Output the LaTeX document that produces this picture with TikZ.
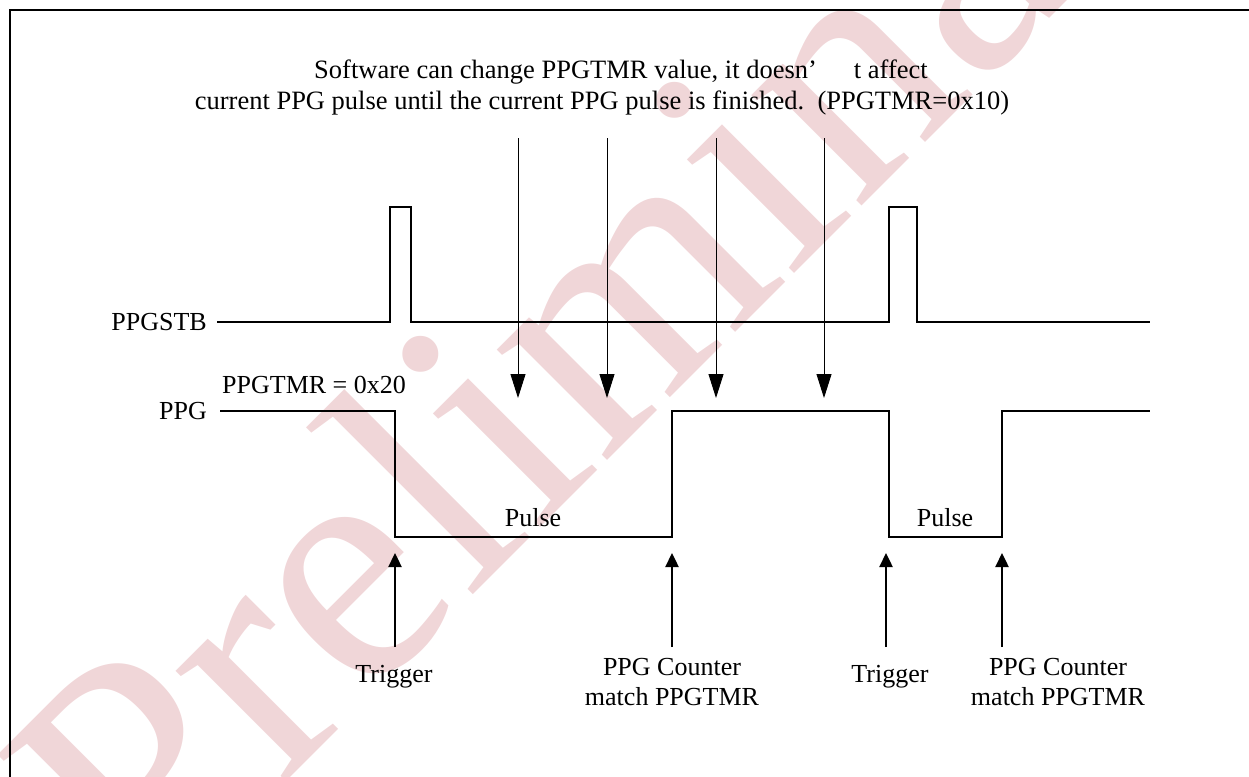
\documentclass[tikz,border=0pt]{standalone}
\usepackage{fontspec}
\setmainfont{Liberation Serif}
\usetikzlibrary{arrows.meta}
\definecolor{wmcol}{RGB}{240,214,216}
\begin{document}
\begin{tikzpicture}[x=1pt,y=-1pt,
  wave/.style={line width=1.6pt, line join=miter},
  darr/.style={line width=0.9pt, -{Triangle[width=15pt,length=24pt]}},
  uarr/.style={line width=2.4pt, -{Triangle[width=13pt,length=14pt]}},
  lbl/.style={font=\fontsize{26}{30}\selectfont, inner sep=0pt},
  toplbl/.style={font=\fontsize{26.5}{30}\selectfont, inner sep=0pt},
  frame/.style={line width=2pt},
  wm/.style={text=wmcol, inner sep=0pt, font=\fontsize{340}{340}\selectfont}]
\useasboundingbox (0,0) rectangle (1249,776);
% watermark
\node[wm, rotate=45, anchor=base west] (wmark) at (148,920) {Preliminary};
% frame
\draw[frame] (10.3,780) -- (10.3,10.3) -- (1260,10.3);
% top text
\node[toplbl, anchor=base] (t1) at (621,78) {Software can change PPGTMR value, it doesn’\hspace{1.4em}t affect};
\node[toplbl, anchor=base] (t2) at (602,109) {current PPG pulse until the current PPG pulse is finished.\ \ (PPGTMR=0x10)};
% signal names
\node[lbl, anchor=east] (nstb) at (207,322) {PPGSTB};
\node[lbl, anchor=east] (nppg) at (207,411) {PPG};
\node[lbl, anchor=base west] (ntmr) at (222,393) {PPGTMR = 0x20};
% waveforms
\draw[wave] (217,322) -| (390,207) -| (411,322) -| (889,207) -| (917,322) -- (1150,322);
\draw[wave] (220,411) -| (395,537) -| (672,411) -| (889,537) -| (1002,411) -- (1150,411);
% pulse labels
\node[lbl] (p1) at (533,518) {Pulse};
\node[lbl] (p2) at (945,518) {Pulse};
% down arrows
\foreach \i/\x in {1/518,2/607,3/716,4/824}{
  \coordinate (ds\i) at (\x,138);
  \coordinate (de\i) at (\x,398);
  \draw[darr] (ds\i) -- (de\i);
}
% up arrows
\foreach \i/\x in {1/395,2/672,3/886,4/1002}{
  \coordinate (us\i) at (\x,647);
  \coordinate (ue\i) at (\x,553);
  \draw[uarr] (us\i) -- (ue\i);
}
% bottom labels
\node[lbl, anchor=base] (tr1) at (394,682) {Trigger};
\node[lbl, anchor=base] (tr2) at (890,682) {Trigger};
\node[lbl, anchor=base, align=center] (m1) at (672,705) {PPG Counter\\match PPGTMR};
\node[lbl, anchor=base, align=center] (m2) at (1058,705) {PPG Counter\\match PPGTMR};
\end{tikzpicture}
\end{document}
